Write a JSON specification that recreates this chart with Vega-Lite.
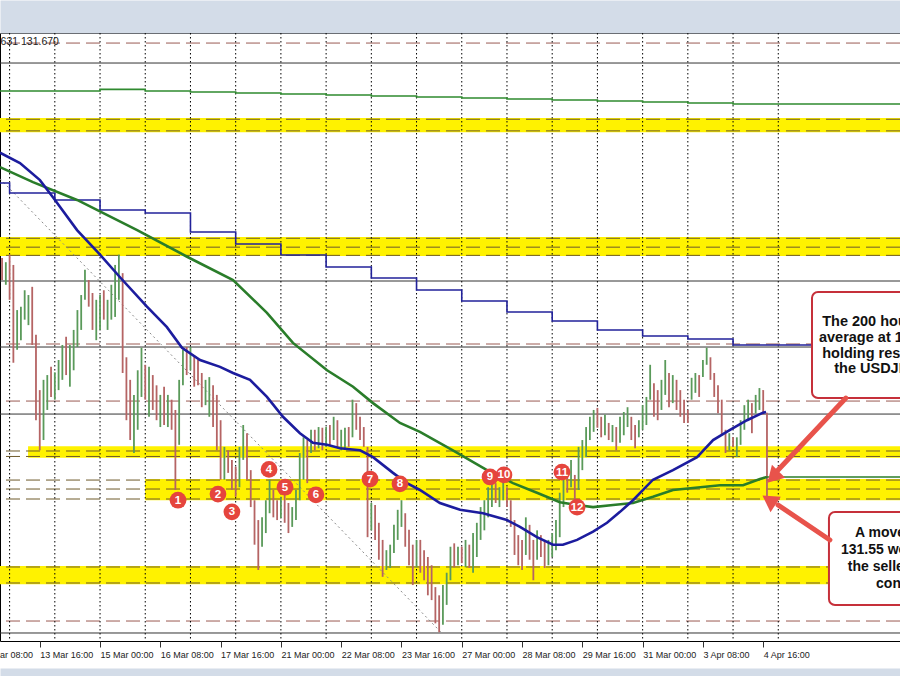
{
"$schema":"https://vega.github.io/schema/vega-lite/v6.json",
"autosize":"none",
"width":900,"height":608,
"padding":{"top":33,"bottom":35,"left":0,"right":0},
"background":"#ffffff",
"config":{"view":{"stroke":"#000","strokeWidth":1,"fill":"#ffffff"}},
"resolve":{"axis":{"x":"independent"}},
"datasets":{
"bands":[{"s":-10,"e":480,"lo":136.92,"hi":137.13},{"s":-10,"e":480,"lo":135.11,"hi":135.39},{"s":9.8,"e":480,"lo":132.16,"hi":132.33},{"s":71.9,"e":480,"lo":131.54,"hi":131.85},{"s":-10,"e":480,"lo":130.31,"hi":130.58}],
"banddash":[{"p":137.11},{"p":136.94},{"p":135.37},{"p":135.24},{"p":135.12},{"p":132.26},{"p":132.18},{"p":131.835},{"p":131.704},{"p":131.558},{"p":130.564},{"p":130.33}],
"solid":[{"p":137.932},{"p":134.745},{"p":133.78},{"p":132.8},{"p":129.599}],
"reddash":[{"p":138.224},{"p":133.824},{"p":132.99},{"p":129.774}],
"days":[{"t":0},{"t":24},{"t":48},{"t":72},{"t":96},{"t":120},{"t":144},{"t":168},{"t":192},{"t":216},{"t":240},{"t":264},{"t":288},{"t":312},{"t":336},{"t":360},{"t":384},{"t":408}],
"trend":[{"t":-5.1,"p":136.24},{"t":229,"p":129.61}],
"candles":[
{"t":-4,"h":135.08,"l":134.76,"u":0},{"t":-2,"h":135.02,"l":134.69,"u":1},{"t":0,"h":135.13,"l":134.47,"u":0},{"t":2,"h":134.98,"l":133.55,"u":0},{"t":4,"h":134.32,"l":133.74,"u":1},{"t":6,"h":134.37,"l":133.88,"u":1},{"t":8,"h":134.61,"l":134.18,"u":1},{"t":10,"h":134.54,"l":134.10,"u":1},{"t":12,"h":134.66,"l":133.81,"u":0},{"t":14,"h":133.96,"l":132.71,"u":0},{"t":16,"h":133.15,"l":132.27,"u":0},{"t":18,"h":133.30,"l":132.42,"u":1},{"t":20,"h":133.37,"l":132.86,"u":1},{"t":22,"h":133.49,"l":133.05,"u":0},{"t":24,"h":133.41,"l":133.01,"u":1},{"t":26,"h":133.59,"l":133.15,"u":1},{"t":28,"h":133.81,"l":133.30,"u":1},{"t":30,"h":133.93,"l":133.37,"u":0},{"t":32,"h":133.81,"l":133.20,"u":1},{"t":34,"h":134.03,"l":133.44,"u":1},{"t":36,"h":134.32,"l":133.78,"u":1},{"t":38,"h":134.54,"l":134.03,"u":1},{"t":40,"h":134.91,"l":134.47,"u":1},{"t":42,"h":134.76,"l":134.37,"u":0},{"t":44,"h":134.57,"l":134.03,"u":0},{"t":46,"h":134.47,"l":133.88,"u":1},{"t":48,"h":134.54,"l":134.03,"u":1},{"t":50,"h":134.61,"l":134.18,"u":0},{"t":52,"h":134.47,"l":134.03,"u":1},{"t":54,"h":134.69,"l":134.18,"u":1},{"t":56,"h":134.98,"l":134.22,"u":1},{"t":58,"h":135.13,"l":134.47,"u":1},{"t":60,"h":134.86,"l":133.40,"u":0},{"t":62,"h":133.63,"l":132.71,"u":0},{"t":64,"h":133.30,"l":132.42,"u":0},{"t":66,"h":133.08,"l":132.23,"u":1},{"t":68,"h":133.44,"l":132.57,"u":1},{"t":70,"h":133.77,"l":133.05,"u":1},{"t":72,"h":133.52,"l":133.01,"u":0},{"t":74,"h":133.49,"l":132.76,"u":1},{"t":76,"h":133.37,"l":132.86,"u":0},{"t":78,"h":133.22,"l":132.71,"u":0},{"t":80,"h":133.08,"l":132.61,"u":1},{"t":82,"h":133.20,"l":132.64,"u":0},{"t":84,"h":133.08,"l":132.61,"u":1},{"t":86,"h":133.01,"l":132.57,"u":0},{"t":88,"h":132.86,"l":131.69,"u":0},{"t":90,"h":133.30,"l":132.35,"u":1},{"t":92,"h":133.74,"l":133.22,"u":1},{"t":94,"h":133.78,"l":133.37,"u":0},{"t":96,"h":133.78,"l":133.44,"u":1},{"t":98,"h":133.66,"l":133.20,"u":0},{"t":100,"h":133.59,"l":133.22,"u":0},
{"t":102,"h":133.40,"l":132.90,"u":0},{"t":104,"h":133.30,"l":132.93,"u":1},{"t":106,"h":133.34,"l":132.76,"u":1},{"t":108,"h":133.22,"l":132.61,"u":0},{"t":110,"h":133.08,"l":132.27,"u":0},{"t":112,"h":132.71,"l":131.84,"u":0},{"t":114,"h":132.32,"l":131.84,"u":1},{"t":116,"h":132.27,"l":131.94,"u":0},{"t":118,"h":132.13,"l":131.69,"u":0},{"t":120,"h":132.03,"l":131.59,"u":0},{"t":122,"h":132.32,"l":131.73,"u":1},{"t":124,"h":132.64,"l":132.13,"u":1},{"t":126,"h":132.52,"l":131.84,"u":0},{"t":128,"h":131.98,"l":131.44,"u":0},{"t":130,"h":131.54,"l":130.89,"u":0},{"t":132,"h":131.25,"l":130.52,"u":0},{"t":134,"h":131.29,"l":130.86,"u":1},{"t":136,"h":131.54,"l":131.06,"u":1},{"t":138,"h":131.84,"l":131.35,"u":1},{"t":140,"h":131.69,"l":131.29,"u":0},{"t":142,"h":131.54,"l":131.25,"u":0},{"t":144,"h":131.59,"l":131.28,"u":1},{"t":146,"h":131.65,"l":131.21,"u":0},{"t":148,"h":131.50,"l":131.06,"u":0},{"t":150,"h":131.44,"l":131.15,"u":1},{"t":152,"h":131.69,"l":131.25,"u":1},{"t":154,"h":132.23,"l":131.54,"u":1},{"t":156,"h":132.46,"l":131.84,"u":1},{"t":158,"h":132.42,"l":131.79,"u":0},{"t":160,"h":132.57,"l":132.23,"u":1},{"t":162,"h":132.57,"l":132.27,"u":0},{"t":164,"h":132.61,"l":132.30,"u":1},{"t":166,"h":132.60,"l":132.27,"u":0},{"t":168,"h":132.61,"l":132.32,"u":1},{"t":170,"h":132.64,"l":132.35,"u":0},{"t":172,"h":132.76,"l":132.42,"u":1},{"t":174,"h":132.71,"l":132.32,"u":0},{"t":176,"h":132.57,"l":132.27,"u":1},{"t":178,"h":132.60,"l":132.30,"u":1},{"t":180,"h":132.61,"l":132.32,"u":0},{"t":182,"h":133.01,"l":132.46,"u":1},{"t":184,"h":132.96,"l":132.57,"u":0},{"t":186,"h":132.76,"l":132.42,"u":0},{"t":188,"h":132.61,"l":132.32,"u":0},{"t":190,"h":132.32,"l":131.00,"u":0},{"t":192,"h":131.50,"l":131.10,"u":1},{"t":194,"h":131.47,"l":130.96,"u":0},{"t":196,"h":131.21,"l":130.67,"u":0},{"t":198,"h":130.96,"l":130.42,"u":0},{"t":200,"h":130.81,"l":130.52,"u":1},
{"t":202,"h":130.89,"l":130.55,"u":1},{"t":204,"h":131.18,"l":130.77,"u":1},{"t":206,"h":131.40,"l":130.96,"u":1},{"t":208,"h":131.54,"l":131.15,"u":1},{"t":210,"h":131.35,"l":130.86,"u":0},{"t":212,"h":131.11,"l":130.59,"u":0},{"t":214,"h":130.89,"l":130.30,"u":0},{"t":216,"h":130.96,"l":130.56,"u":1},{"t":218,"h":130.96,"l":130.48,"u":0},{"t":220,"h":130.81,"l":130.37,"u":0},{"t":222,"h":130.71,"l":130.15,"u":0},{"t":224,"h":130.59,"l":130.08,"u":0},{"t":226,"h":130.27,"l":129.74,"u":0},{"t":228,"h":130.15,"l":129.61,"u":0},{"t":230,"h":130.30,"l":129.72,"u":1},{"t":232,"h":130.48,"l":130.01,"u":1},{"t":234,"h":130.86,"l":130.37,"u":1},{"t":236,"h":130.91,"l":130.56,"u":0},{"t":238,"h":130.86,"l":130.59,"u":1},{"t":240,"h":130.86,"l":130.62,"u":0},{"t":242,"h":130.96,"l":130.56,"u":1},{"t":244,"h":130.89,"l":130.55,"u":0},{"t":246,"h":131.06,"l":130.48,"u":1},{"t":248,"h":131.21,"l":130.71,"u":1},{"t":250,"h":131.44,"l":130.96,"u":1},{"t":252,"h":131.54,"l":131.10,"u":1},{"t":254,"h":131.73,"l":131.29,"u":1},{"t":256,"h":131.84,"l":131.44,"u":1},{"t":258,"h":131.79,"l":131.50,"u":0},{"t":260,"h":131.73,"l":131.44,"u":1},{"t":262,"h":131.87,"l":131.54,"u":1},{"t":264,"h":131.73,"l":131.44,"u":0},{"t":266,"h":131.54,"l":131.15,"u":0},{"t":268,"h":131.25,"l":130.74,"u":0},{"t":270,"h":131.03,"l":130.59,"u":0},{"t":272,"h":130.96,"l":130.52,"u":0},{"t":274,"h":131.29,"l":130.74,"u":1},{"t":276,"h":131.18,"l":130.67,"u":0},{"t":278,"h":130.96,"l":130.37,"u":0},{"t":280,"h":131.10,"l":130.67,"u":1},{"t":282,"h":131.03,"l":130.71,"u":0},{"t":284,"h":130.96,"l":130.55,"u":0},{"t":286,"h":130.96,"l":130.59,"u":1},{"t":288,"h":131.06,"l":130.71,"u":1},{"t":290,"h":131.25,"l":130.81,"u":1},{"t":292,"h":131.65,"l":131.00,"u":1},{"t":294,"h":131.94,"l":131.44,"u":1},{"t":296,"h":131.94,"l":131.65,"u":0},{"t":298,"h":132.13,"l":131.73,"u":1},{"t":300,"h":131.91,"l":131.50,"u":0},
{"t":302,"h":132.32,"l":131.69,"u":1},{"t":304,"h":132.42,"l":131.98,"u":1},{"t":306,"h":132.61,"l":132.17,"u":1},{"t":308,"h":132.76,"l":132.42,"u":1},{"t":310,"h":132.86,"l":132.54,"u":1},{"t":312,"h":132.89,"l":132.60,"u":0},{"t":314,"h":132.76,"l":132.46,"u":0},{"t":316,"h":132.79,"l":132.49,"u":1},{"t":318,"h":132.67,"l":132.42,"u":0},{"t":320,"h":132.64,"l":132.39,"u":1},{"t":322,"h":132.61,"l":132.27,"u":0},{"t":324,"h":132.76,"l":132.38,"u":1},{"t":326,"h":132.83,"l":132.49,"u":1},{"t":328,"h":132.90,"l":132.61,"u":1},{"t":330,"h":132.76,"l":132.42,"u":0},{"t":332,"h":132.64,"l":132.30,"u":0},{"t":334,"h":132.71,"l":132.46,"u":1},{"t":336,"h":132.93,"l":132.57,"u":1},{"t":338,"h":133.05,"l":132.64,"u":1},{"t":340,"h":133.52,"l":133.01,"u":1},{"t":342,"h":133.25,"l":132.76,"u":0},{"t":344,"h":133.15,"l":132.71,"u":0},{"t":346,"h":133.30,"l":132.86,"u":1},{"t":348,"h":133.59,"l":133.08,"u":1},{"t":350,"h":133.40,"l":132.90,"u":0},{"t":352,"h":133.37,"l":132.96,"u":1},{"t":354,"h":133.30,"l":132.86,"u":0},{"t":356,"h":133.15,"l":132.76,"u":0},{"t":358,"h":133.01,"l":132.67,"u":0},{"t":360,"h":132.86,"l":132.67,"u":0},{"t":362,"h":133.33,"l":133.01,"u":1},{"t":364,"h":133.40,"l":133.11,"u":1},{"t":366,"h":133.37,"l":133.05,"u":0},{"t":368,"h":133.59,"l":133.34,"u":1},{"t":370,"h":133.77,"l":133.52,"u":1},{"t":372,"h":133.63,"l":133.30,"u":0},{"t":374,"h":133.40,"l":133.05,"u":0},{"t":376,"h":133.22,"l":132.81,"u":0},{"t":378,"h":133.01,"l":132.49,"u":0},{"t":380,"h":132.57,"l":132.23,"u":0},{"t":382,"h":132.52,"l":132.27,"u":1},{"t":384,"h":132.46,"l":132.32,"u":0},{"t":386,"h":132.46,"l":132.17,"u":1},{"t":388,"h":132.71,"l":132.35,"u":1},{"t":390,"h":132.93,"l":132.57,"u":1},{"t":392,"h":133.01,"l":132.71,"u":1},{"t":394,"h":132.96,"l":132.52,"u":0},{"t":396,"h":133.08,"l":132.81,"u":1},{"t":398,"h":133.18,"l":132.86,"u":1},{"t":400,"h":133.15,"l":132.79,"u":0},{"t":402,"h":132.82,"l":131.59,"u":0}
],
"green2":[{"t":-5.1,"p":137.523},{"t":48,"p":137.547},{"t":72,"p":137.523},{"t":96,"p":137.508},{"t":120,"p":137.493},{"t":144,"p":137.479},{"t":168,"p":137.464},{"t":192,"p":137.449},{"t":216,"p":137.435},{"t":240,"p":137.42},{"t":264,"p":137.406},{"t":288,"p":137.391},{"t":312,"p":137.376},{"t":336,"p":137.362},{"t":360,"p":137.347},{"t":384,"p":137.333},{"t":473,"p":137.333}],
"step":[{"t":-5.1,"p":136.178},{"t":0,"p":136.031},{"t":24,"p":135.929},{"t":48,"p":135.783},{"t":72,"p":135.739},{"t":96,"p":135.461},{"t":120,"p":135.286},{"t":144,"p":135.125},{"t":168,"p":134.95},{"t":192,"p":134.789},{"t":216,"p":134.613},{"t":240,"p":134.452},{"t":264,"p":134.292},{"t":288,"p":134.16},{"t":312,"p":134.028},{"t":336,"p":133.941},{"t":360,"p":133.897},{"t":384,"p":133.809},{"t":473,"p":133.809}],
"green":[{"t":-5.1,"p":136.41},{"t":12.4,"p":136.19},{"t":35.8,"p":135.93},{"t":67.7,"p":135.49},{"t":94.2,"p":135.1},{"t":118.6,"p":134.76},{"t":136.6,"p":134.28},{"t":150.4,"p":133.84},{"t":168.5,"p":133.44},{"t":182.3,"p":133.2},{"t":192.9,"p":132.96},{"t":207.2,"p":132.67},{"t":217.8,"p":132.54},{"t":235.3,"p":132.27},{"t":253.4,"p":131.98},{"t":267.2,"p":131.79},{"t":279.9,"p":131.65},{"t":292.1,"p":131.51},{"t":301.2,"p":131.47},{"t":309.7,"p":131.44},{"t":320.3,"p":131.47},{"t":330.9,"p":131.5},{"t":341.5,"p":131.59},{"t":352.1,"p":131.69},{"t":362.7,"p":131.72},{"t":377.1,"p":131.76},{"t":389.3,"p":131.76},{"t":398.3,"p":131.85},{"t":402,"p":131.88}],
"greenlevel":[{"t":402,"t2":473,"p":131.88}],
"blue":[{"t":-5.1,"p":136.62},{"t":5.5,"p":136.47},{"t":16.1,"p":136.22},{"t":23,"p":135.97},{"t":35.8,"p":135.49},{"t":48,"p":135.13},{"t":58.6,"p":134.8},{"t":72.9,"p":134.37},{"t":83.5,"p":134.07},{"t":91.5,"p":133.77},{"t":101.1,"p":133.59},{"t":111.7,"p":133.49},{"t":118.6,"p":133.4},{"t":127.6,"p":133.3},{"t":136.6,"p":133.05},{"t":145.1,"p":132.76},{"t":154.1,"p":132.52},{"t":161,"p":132.38},{"t":168.5,"p":132.35},{"t":175.4,"p":132.3},{"t":186,"p":132.27},{"t":192.9,"p":132.17},{"t":203.5,"p":131.94},{"t":210.9,"p":131.79},{"t":217.8,"p":131.69},{"t":228.4,"p":131.5},{"t":239.1,"p":131.4},{"t":251.3,"p":131.35},{"t":264,"p":131.25},{"t":270.9,"p":131.15},{"t":279.9,"p":131.0},{"t":288.4,"p":130.89},{"t":293.7,"p":130.89},{"t":301.2,"p":130.96},{"t":309.7,"p":131.08},{"t":317.1,"p":131.21},{"t":324,"p":131.37},{"t":330.9,"p":131.54},{"t":341.5,"p":131.84},{"t":352.1,"p":131.98},{"t":364.9,"p":132.17},{"t":373.4,"p":132.42},{"t":382.4,"p":132.57},{"t":391.4,"p":132.71},{"t":399.9,"p":132.82},{"t":401.5,"p":132.83}],
"circles":[{"t":89.4,"p":131.54,"n":"1"},{"t":110.6,"p":131.63,"n":"2"},{"t":118,"p":131.37,"n":"3"},{"t":137.7,"p":131.99,"n":"4"},{"t":146.2,"p":131.73,"n":"5"},{"t":162.6,"p":131.62,"n":"6"},{"t":191.3,"p":131.85,"n":"7"},{"t":207.2,"p":131.78,"n":"8"},{"t":255,"p":131.88,"n":"9"},{"t":262.4,"p":131.91,"n":"10"},{"t":293.2,"p":131.95,"n":"11"},{"t":301.2,"p":131.44,"n":"12"}],
"boxes":[{"s":425.9,"e":490,"lo":133.034,"hi":134.584},{"s":434.9,"e":500,"lo":130.008,"hi":131.368}],
"boxtext1":[{"t":431.3,"p":134.15,"s":"The 200 hour moving"},{"t":429.6,"p":133.907,"s":"average at 131.88 is"},{"t":431.3,"p":133.677,"s":"holding resistance for"},{"t":437.7,"p":133.454,"s":"the USDJPY"}],
"boxtext2":[{"t":448.7,"p":131.056,"s":"A move below"},{"t":441.3,"p":130.812,"s":"131.55 would give"},{"t":444.9,"p":130.568,"s":"the sellers more"},{"t":459.9,"p":130.315,"s":"control"}],
"arrows":[{"t":443.9,"p":133.034,"t2":407.9,"p2":131.981},{"t":435.4,"p":130.959,"t2":407.9,"p2":131.47}],
"heads":[{"t":405.2,"p":131.88,"a":224},{"t":403.1,"p":131.543,"a":304}],
"quote":[{"t":26.2,"p":138.243,"s":"131.631 131.670"}]
},
"layer":[
{"data":{"name":"bands"},"mark":{"type":"rect","color":"#fff200","clip":true},
 "encoding":{"x":{"field":"s","type":"quantitative","scale":{"domain":[-5.096,472.61],"nice":false,"zero":false},
   "axis":{"orient":"top","domain":true,"domainColor":"#d3dce8","domainWidth":33,"offset":16.5,"labels":false,"ticks":false,"grid":false,"title":null}},"x2":{"field":"e"},
 "y":{"field":"lo","type":"quantitative","scale":{"domain":[129.482,138.371],"nice":false,"zero":false},"axis":null},"y2":{"field":"hi"}}},
{"data":{"name":"banddash"},"mark":{"type":"rule","color":"#6e5a2a","strokeWidth":1,"strokeDash":[14,6]},
 "encoding":{"y":{"field":"p","type":"quantitative","scale":{"domain":[129.482,138.371],"nice":false,"zero":false},"axis":null}}},
{"data":{"name":"solid"},"mark":{"type":"rule","color":"#333333","strokeWidth":1},
 "encoding":{"y":{"field":"p","type":"quantitative","scale":{"domain":[129.482,138.371],"nice":false,"zero":false},"axis":null}}},
{"data":{"name":"reddash"},"mark":{"type":"rule","color":"#9a5a52","strokeWidth":1,"strokeDash":[14,6]},
 "encoding":{"y":{"field":"p","type":"quantitative","scale":{"domain":[129.482,138.371],"nice":false,"zero":false},"axis":null}}},
{"data":{"name":"days"},"mark":{"type":"rule","color":"#000000","strokeWidth":1,"strokeDash":[1.5,2.5]},
 "encoding":{"x":{"field":"t","type":"quantitative","scale":{"domain":[-5.096,472.61],"nice":false,"zero":false},
  "axis":{"orient":"bottom","values":[-5.09,16,48,80,112,144,176,208,240,272,304,336,368,400],
   "labelExpr":"['10 Mar 08:00','13 Mar 16:00','15 Mar 00:00','16 Mar 08:00','17 Mar 16:00','21 Mar 00:00','22 Mar 08:00','23 Mar 16:00','27 Mar 00:00','28 Mar 08:00','29 Mar 16:00','31 Mar 00:00','3 Apr 08:00','4 Apr 16:00'][round((datum.value+16)/32)]",
   "labelOffset":{"condition":{"test":"datum.value < 0","value":-20.5},"value":0},
   "tickOpacity":{"condition":{"test":"datum.value < 0","value":0},"value":1},
   "labelAlign":"left","labelBaseline":"top","labelFont":"Liberation Sans","labelFontSize":9,"labelColor":"#222222","labelPadding":3,
   "labelFlush":false,"labelOverlap":false,"labelBound":false,
   "ticks":true,"tickSize":6,"tickColor":"#333333","tickWidth":1,
   "domain":false,"grid":false,"title":null}}}},
{"data":{"name":"trend"},"mark":{"type":"line","color":"#8a8a8a","strokeWidth":1,"strokeDash":[2,3],"clip":true},
 "encoding":{"x":{"field":"t","type":"quantitative","scale":{"domain":[-5.096,472.61],"nice":false,"zero":false},
   "axis":{"orient":"bottom","domain":true,"domainColor":"#d3dce8","domainWidth":8,"offset":31,"labels":false,"ticks":false,"grid":false,"title":null}},
 "y":{"field":"p","type":"quantitative","scale":{"domain":[129.482,138.371],"nice":false,"zero":false},"axis":null}}},
{"data":{"name":"candles"},"mark":{"type":"rule","strokeWidth":1.8,"clip":true},
 "encoding":{"x":{"field":"t","type":"quantitative","scale":{"domain":[-5.096,472.61],"nice":false,"zero":false},"axis":null},
 "y":{"field":"l","type":"quantitative","scale":{"domain":[129.482,138.371],"nice":false,"zero":false},"axis":null},"y2":{"field":"h"},
 "color":{"field":"u","type":"nominal","scale":{"domain":[0,1],"range":["#b56464","#5a9a5a"]},"legend":null}}},
{"data":{"name":"green2"},"mark":{"type":"line","color":"#2f8a2f","strokeWidth":1.6,"interpolate":"step-after","clip":true},
 "encoding":{"x":{"field":"t","type":"quantitative","scale":{"domain":[-5.096,472.61],"nice":false,"zero":false},"axis":null},
 "y":{"field":"p","type":"quantitative","scale":{"domain":[129.482,138.371],"nice":false,"zero":false},"axis":null}}},
{"data":{"name":"step"},"mark":{"type":"line","color":"#22229a","strokeWidth":1.6,"interpolate":"step-after","clip":true},
 "encoding":{"x":{"field":"t","type":"quantitative","scale":{"domain":[-5.096,472.61],"nice":false,"zero":false},"axis":null},
 "y":{"field":"p","type":"quantitative","scale":{"domain":[129.482,138.371],"nice":false,"zero":false},"axis":null}}},
{"data":{"name":"green"},"mark":{"type":"line","color":"#2a7d2a","strokeWidth":2.6,"clip":true},
 "encoding":{"x":{"field":"t","type":"quantitative","scale":{"domain":[-5.096,472.61],"nice":false,"zero":false},"axis":null},
 "y":{"field":"p","type":"quantitative","scale":{"domain":[129.482,138.371],"nice":false,"zero":false},"axis":null}}},
{"data":{"name":"greenlevel"},"mark":{"type":"rule","color":"#2a7d2a","strokeWidth":1.6,"clip":true},
 "encoding":{"x":{"field":"t","type":"quantitative","scale":{"domain":[-5.096,472.61],"nice":false,"zero":false},"axis":null},"x2":{"field":"t2"},
 "y":{"field":"p","type":"quantitative","scale":{"domain":[129.482,138.371],"nice":false,"zero":false},"axis":null}}},
{"data":{"name":"blue"},"mark":{"type":"line","color":"#1c1c9e","strokeWidth":2.6,"clip":true},
 "encoding":{"x":{"field":"t","type":"quantitative","scale":{"domain":[-5.096,472.61],"nice":false,"zero":false},"axis":null},
 "y":{"field":"p","type":"quantitative","scale":{"domain":[129.482,138.371],"nice":false,"zero":false},"axis":null}}},
{"data":{"name":"circles"},"mark":{"type":"point","filled":true,"color":"#e5453d","opacity":1,"size":280,"shape":"circle"},
 "encoding":{"x":{"field":"t","type":"quantitative","scale":{"domain":[-5.096,472.61],"nice":false,"zero":false},"axis":null},
 "y":{"field":"p","type":"quantitative","scale":{"domain":[129.482,138.371],"nice":false,"zero":false},"axis":null}}},
{"data":{"name":"circles"},"mark":{"type":"text","color":"#ffffff","font":"Liberation Sans","fontSize":11.5,"fontWeight":"bold","align":"center","baseline":"middle","dy":0.5},
 "encoding":{"x":{"field":"t","type":"quantitative","scale":{"domain":[-5.096,472.61],"nice":false,"zero":false},"axis":null},
 "y":{"field":"p","type":"quantitative","scale":{"domain":[129.482,138.371],"nice":false,"zero":false},"axis":null},"text":{"field":"n"}}},
{"data":{"name":"boxes"},"mark":{"type":"rect","fill":"#ffffff","stroke":"#c6303a","strokeWidth":2,"cornerRadius":6},
 "encoding":{"x":{"field":"s","type":"quantitative","scale":{"domain":[-5.096,472.61],"nice":false,"zero":false},"axis":null},"x2":{"field":"e"},
 "y":{"field":"lo","type":"quantitative","scale":{"domain":[129.482,138.371],"nice":false,"zero":false},"axis":null},"y2":{"field":"hi"}}},
{"data":{"name":"boxtext1"},"mark":{"type":"text","color":"#111111","font":"Liberation Sans","fontSize":14.5,"fontWeight":"bold","align":"left","baseline":"middle"},
 "encoding":{"x":{"field":"t","type":"quantitative","scale":{"domain":[-5.096,472.61],"nice":false,"zero":false},"axis":null},
 "y":{"field":"p","type":"quantitative","scale":{"domain":[129.482,138.371],"nice":false,"zero":false},"axis":null},"text":{"field":"s"}}},
{"data":{"name":"boxtext2"},"mark":{"type":"text","color":"#111111","font":"Liberation Sans","fontSize":14,"fontWeight":"bold","align":"left","baseline":"middle"},
 "encoding":{"x":{"field":"t","type":"quantitative","scale":{"domain":[-5.096,472.61],"nice":false,"zero":false},"axis":null},
 "y":{"field":"p","type":"quantitative","scale":{"domain":[129.482,138.371],"nice":false,"zero":false},"axis":null},"text":{"field":"s"}}},
{"data":{"name":"arrows"},"mark":{"type":"rule","color":"#e8534b","strokeWidth":5,"strokeCap":"round"},
 "encoding":{"x":{"field":"t","type":"quantitative","scale":{"domain":[-5.096,472.61],"nice":false,"zero":false},"axis":null},"x2":{"field":"t2"},
 "y":{"field":"p","type":"quantitative","scale":{"domain":[129.482,138.371],"nice":false,"zero":false},"axis":null},"y2":{"field":"p2"}}},
{"data":{"name":"heads"},"mark":{"type":"point","shape":"triangle-up","filled":true,"color":"#e8534b","opacity":1,"size":340},
 "encoding":{"x":{"field":"t","type":"quantitative","scale":{"domain":[-5.096,472.61],"nice":false,"zero":false},"axis":null},
 "y":{"field":"p","type":"quantitative","scale":{"domain":[129.482,138.371],"nice":false,"zero":false},"axis":null},
 "angle":{"field":"a","type":"quantitative","scale":null}}},
{"data":{"name":"quote"},"mark":{"type":"text","color":"#222222","font":"Liberation Sans","fontSize":10.5,"align":"right","baseline":"middle"},
 "encoding":{"x":{"field":"t","type":"quantitative","scale":{"domain":[-5.096,472.61],"nice":false,"zero":false},"axis":null},
 "y":{"field":"p","type":"quantitative","scale":{"domain":[129.482,138.371],"nice":false,"zero":false},"axis":null},"text":{"field":"s"}}}
]
}
